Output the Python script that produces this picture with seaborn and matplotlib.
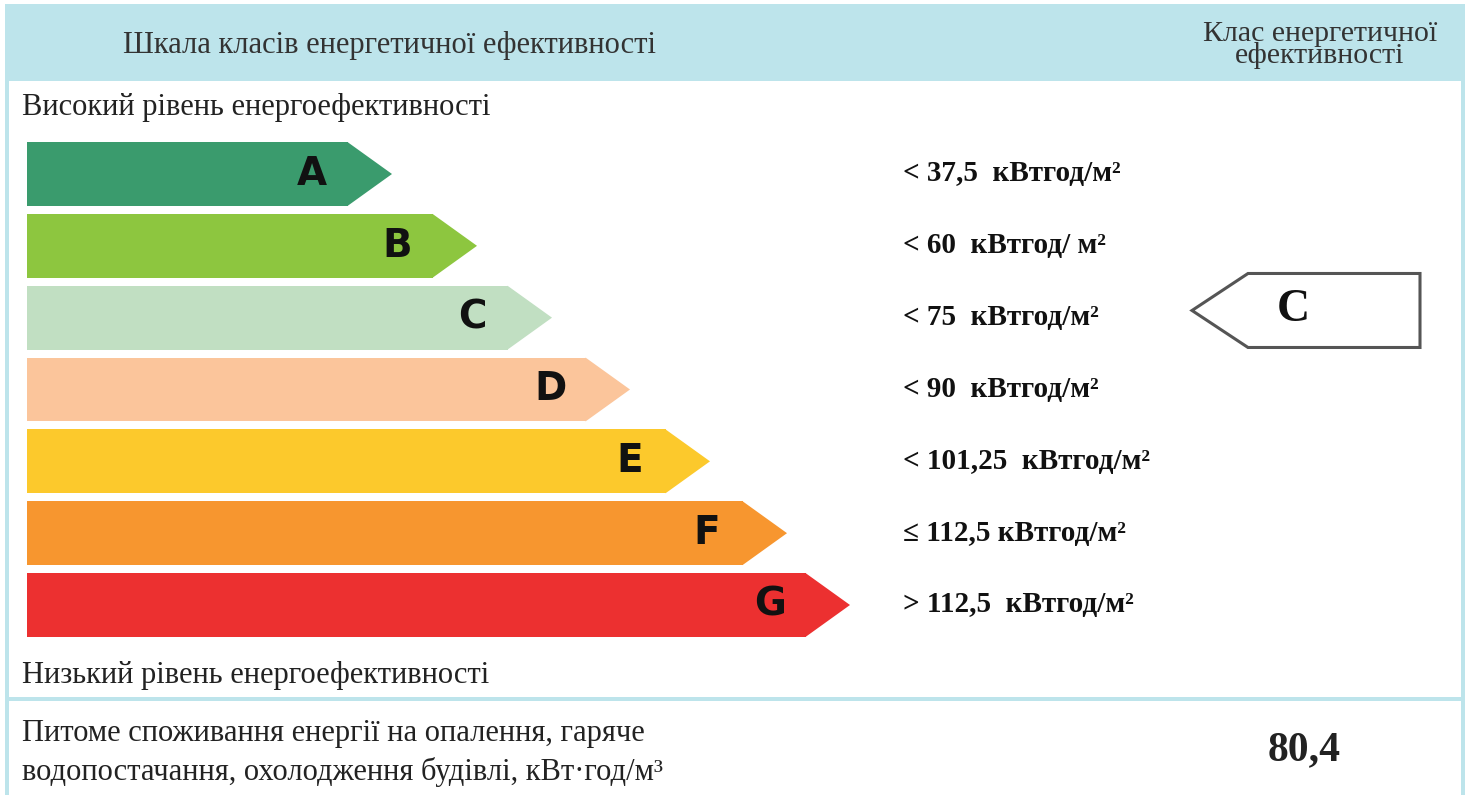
import matplotlib
matplotlib.use("Agg")
import matplotlib.pyplot as plt
from matplotlib.patches import Rectangle, Polygon
from matplotlib.transforms import blended_transform_factory
import seaborn as sns

# ---- data ----
classes = ["A", "B", "C", "D", "E", "F", "G"]
bar_lengths = [365, 450, 525, 603, 683, 760, 823]
class_colors = ["#3a9b6d", "#8dc63f", "#c1dfc2", "#fbc59b", "#fcc92c", "#f7962f", "#ec3030"]
thresholds = ["< 37,5  кВтгод/м²", "< 60  кВтгод/ м²", "< 75  кВтгод/м²",
              "< 90  кВтгод/м²", "< 101,25  кВтгод/м²", "≤ 112,5 кВтгод/м²",
              "> 112,5  кВтгод/м²"]
rating_class = "C"
specific_consumption = "80,4"
header_left = "Шкала класів енергетичної ефективності"
header_right = "Клас енергетичної\nефективності"
top_note = "Високий рівень енергоефективності"
bottom_note = "Низький рівень енергоефективності"
consumption_label = "Питоме споживання енергії на опалення, гаряче\nводопостачання, охолодження будівлі, кВт·год/м³"

sns.set_theme(style="white")
plt.rcParams["font.family"] = ["Liberation Serif", "DejaVu Serif"]

W, H = 1469, 795
fig = plt.figure(figsize=(W / 100, H / 100), dpi=100)
fig.patch.set_facecolor("white")

# background axes in pixel coordinates
ax0 = fig.add_axes([0, 0, 1, 1])
ax0.set_xlim(0, W)
ax0.set_ylim(H, 0)
ax0.axis("off")

band = "#bde4eb"
txt = "#222222"
ax0.add_patch(Rectangle((5, 4), 1460, 77, color=band, lw=0, zorder=1))
ax0.add_patch(Rectangle((5, 81), 4, H - 81, color=band, lw=0, zorder=1))
ax0.add_patch(Rectangle((1461, 81), 4, H - 81, color=band, lw=0, zorder=1))
ax0.add_patch(Rectangle((5, 697), 1460, 4, color=band, lw=0, zorder=1))

ax0.text(390, 46, header_left, ha="center", va="center", fontsize=22, color="#333333")
ax0.text(1320, 45, header_right, ha="center", va="center", fontsize=21.5,
         color="#333333", linespacing=0.78)
ax0.text(22, 108, top_note, ha="left", va="center", fontsize=22, color=txt)
ax0.text(22, 676, bottom_note, ha="left", va="center", fontsize=22, color=txt)
ax0.text(22, 753, consumption_label, ha="left", va="center", fontsize=22,
         color=txt, linespacing=1.35)
ax0.text(1304, 750, specific_consumption, ha="center", va="center", fontsize=30,
         fontweight="bold", color=txt)

# bar axes: one category step = 71.83 px
step = (605 - 174) / 6
top = 174 - step / 2
ax = fig.add_axes([27 / W, 1 - (top + 7 * step) / H, (W - 27) / W, 7 * step / H])
ax.patch.set_alpha(0)
sns.barplot(x=bar_lengths, y=classes, hue=classes, palette=dict(zip(classes, class_colors)),
            orient="h", width=0.89, legend=False, ax=ax, saturation=1)
ax.set_xlim(0, W - 27)
ax.set_ylim(6.5, -0.5)
ax.axis("off")

tip = 44
patches = sorted(ax.patches, key=lambda p: p.get_y())
for p, cls, lab in zip(patches, classes, thresholds):
    x0, y0, w, h = p.get_x(), p.get_y(), p.get_width(), p.get_height()
    col = p.get_facecolor()
    p.set_width(w - tip)
    p.set_edgecolor("none")
    ax.add_patch(Polygon([(x0 + w - tip - 0.5, y0), (x0 + w, y0 + h / 2),
                          (x0 + w - tip - 0.5, y0 + h)], closed=True,
                         facecolor=col, edgecolor="none"))
    ax.text(x0 + w - tip - 36, y0 + h / 2, cls, ha="center", va="center",
            fontsize=28, fontweight="bold", family="DejaVu Sans", color="#111111")
    ax.text(903 - 27, y0 + h / 2, lab, ha="left", va="center", fontsize=21,
            fontweight="bold", color="#111111")

# rating pointer aligned to the rating class row
ri = classes.index(rating_class) - 0.1
tr = blended_transform_factory(ax0.transData, ax.transData)
hh = 37 / step
ax0.add_patch(Polygon([(1192, ri), (1248, ri - hh), (1420, ri - hh), (1420, ri + hh),
                       (1248, ri + hh)], closed=True, facecolor="white",
                      edgecolor="#555555", lw=2.2, transform=tr, zorder=3))
ax0.text(1293, ri, rating_class, transform=tr, ha="center", va="center",
         fontsize=33, fontweight="bold", color="#111111", zorder=4)

fig.savefig("out.png", dpi=100, facecolor="white")
